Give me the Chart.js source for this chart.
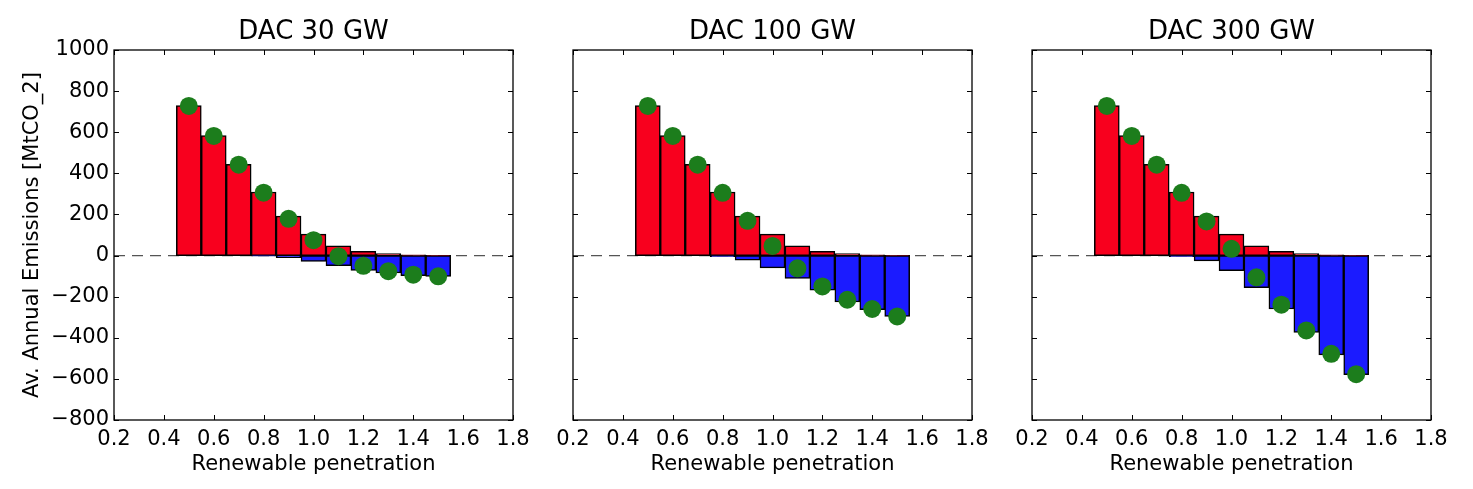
<!DOCTYPE html>
<html>
<head>
<meta charset="utf-8">
<title>DAC emissions by renewable penetration</title>
<script src="https://cdn.jsdelivr.net/npm/chart.js@4.4.1/dist/chart.umd.min.js"></script>
<style>
  body { margin: 0; background: #fff; }
  #wrap { position: relative; width: 1473px; height: 489px; overflow: hidden; }
  canvas { position: absolute; top: 0; }
</style>
</head>
<body>
<div id="wrap">
  <canvas id="dac30" width="540" height="489" style="left:0px"></canvas>
  <canvas id="dac100" width="460" height="489" style="left:540px"></canvas>
  <canvas id="dac300" width="473" height="489" style="left:1000px"></canvas>
</div>
<script>
// --- DATA ---
const penetration = [0.5, 0.6, 0.7, 0.8, 0.9, 1.0, 1.1, 1.2, 1.3, 1.4, 1.5];
const fossilEmissions = [730, 584, 444, 309, 192, 104, 47, 21, 10, 4, 1];

const dac30Removal  = [0, 0, 0, -3, -10, -28, -49, -72, -85, -98, -101];
const dac100Removal = [0, 0, 0, -6, -23, -60, -111, -169, -226, -263, -296];
const dac300Removal = [0, 0, 0, -6, -26, -73, -156, -260, -374, -483, -580];

const dac30Net  = [728, 582, 442, 306, 179, 75, -3, -50, -76, -93, -101];
const dac100Net = [728, 582, 442, 305, 169, 47, -62, -150, -215, -260, -296];
const dac300Net = [728, 582, 442, 305, 166, 33, -106, -239, -364, -478, -577];

const panelTitles = ['DAC 30 GW', 'DAC 100 GW', 'DAC 300 GW'];
const xTickValues = [0.2, 0.4, 0.6, 0.8, 1.0, 1.2, 1.4, 1.6, 1.8];
const yTickValues = [-800, -600, -400, -200, 0, 200, 400, 600, 800, 1000];
const zeroLine = [0.2, 1.8];

// --- STYLE ---
const COLORS = { red: '#f8001e', blue: '#1b1bff', green: '#1c7d1c', edge: '#000', dash: '#555' };
const TICK = 5;
Chart.defaults.font.family = '"DejaVu Sans", sans-serif';
Chart.defaults.color = '#000';

const toPoints = vals => penetration.map((x, i) => ({ x, y: vals[i] }));

// inward tick marks on all four sides + the axes frame (matplotlib classic look)
const frameTicks = {
    id: 'frameTicks',
    afterDatasetsDraw(chart) {
        const { ctx, chartArea: a, scales: { x, y } } = chart;
        ctx.save();
        ctx.strokeStyle = '#000';
        ctx.lineWidth = 1;
        ctx.beginPath();
        xTickValues.forEach(v => {
            const px = Math.round(x.getPixelForValue(v)) + 0.5;
            ctx.moveTo(px, a.bottom); ctx.lineTo(px, a.bottom - TICK);
            ctx.moveTo(px, a.top); ctx.lineTo(px, a.top + TICK);
        });
        yTickValues.forEach(v => {
            const py = Math.round(y.getPixelForValue(v)) + 0.5;
            ctx.moveTo(a.left, py); ctx.lineTo(a.left + TICK, py);
            ctx.moveTo(a.right, py); ctx.lineTo(a.right - TICK, py);
        });
        ctx.stroke();
        ctx.lineWidth = 1.3;
        ctx.strokeRect(a.left, a.top, a.right - a.left, a.bottom - a.top);
        ctx.restore();
    }
};

function buildPanel(id, title, removal, net, opts) {
    const barStyle = {
        borderColor: COLORS.edge, borderWidth: 1.5, borderSkipped: false,
        grouped: false, barPercentage: 1, categoryPercentage: 1
    };
    return new Chart(document.getElementById(id), {
        type: 'bar',
        data: {
            datasets: [
                { type: 'line', data: toPoints(net), showLine: false, pointRadius: 9, pointHoverRadius: 9,
                  pointBorderWidth: 0, pointBackgroundColor: COLORS.green, order: 0 },
                { data: toPoints(removal), backgroundColor: COLORS.blue, ...barStyle, order: 1 },
                { data: toPoints(fossilEmissions), backgroundColor: COLORS.red, ...barStyle, order: 2 },
                { type: 'line', data: zeroLine.map(x => ({ x, y: 0 })), borderColor: COLORS.dash,
                  borderWidth: 1.3, borderDash: [11, 7], pointRadius: 0, order: 3 }
            ]
        },
        options: {
            responsive: false, animation: false, devicePixelRatio: 1, events: [],
            layout: { padding: { left: 0, right: opts.padRight, top: 0, bottom: 0 } },
            plugins: {
                legend: { display: false }, tooltip: { enabled: false },
                title: { display: true, text: title, fullSize: false, color: '#000',
                         font: { size: 26, weight: 'normal' }, padding: { top: 16.4, bottom: 2.4 } }
            },
            scales: {
                x: {
                    type: 'linear', min: 0.2, max: 1.8, offset: false,
                    grid: { display: false, drawTicks: false }, border: { display: false },
                    afterBuildTicks: s => { s.ticks = xTickValues.map(value => ({ value })); },
                    afterFit: s => { s.height = 69; s.paddingLeft = 0; s.paddingRight = 0; },
                    ticks: { font: { size: 21 }, padding: 7, maxRotation: 0, autoSkip: false,
                             callback: v => v.toFixed(1) },
                    title: { display: true, text: 'Renewable penetration', font: { size: 21 },
                             padding: { top: 0, bottom: 12 } }
                },
                y: {
                    min: -800, max: 1000,
                    grid: { display: false, drawTicks: false }, border: { display: false },
                    afterBuildTicks: s => { s.ticks = yTickValues.map(value => ({ value })); },
                    afterFit: s => { s.width = opts.yWidth; s.paddingTop = 0; s.paddingBottom = 0; },
                    ticks: { display: opts.showY, font: { size: 21 }, padding: 5, autoSkip: false,
                             callback: v => v < 0 ? '\u2212' + Math.abs(v) : String(v) },
                    title: { display: opts.showY, text: 'Av. Annual Emissions [MtCO_2]', font: { size: 21 },
                             padding: { top: 20, bottom: 0 } }
                }
            }
        },
        plugins: [frameTicks]
    });
}

// --- INITIALIZE ---
buildPanel('dac30', panelTitles[0], dac30Removal, dac30Net, { yWidth: 114, padRight: 27, showY: true });
buildPanel('dac100', panelTitles[1], dac100Removal, dac100Net, { yWidth: 33, padRight: 28, showY: false });
buildPanel('dac300', panelTitles[2], dac300Removal, dac300Net, { yWidth: 32, padRight: 42, showY: false });
</script>
</body>
</html>
